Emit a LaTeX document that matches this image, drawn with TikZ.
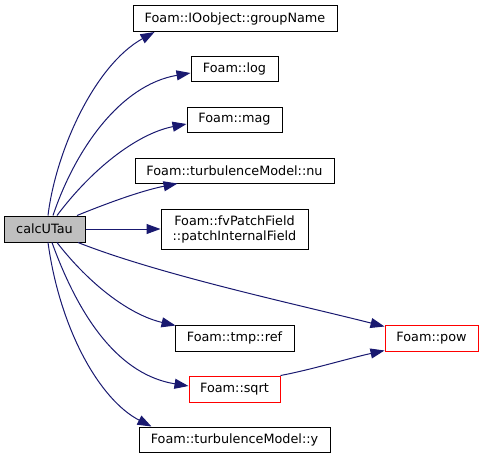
\documentclass[tikz,border=0pt]{standalone}
\usepackage{fontspec}
\setmainfont{DejaVu Sans}
\usetikzlibrary{arrows.meta,calc}
\definecolor{edgeblue}{HTML}{191970}
\definecolor{boxgrey}{HTML}{BFBFBF}
\definecolor{boxred}{HTML}{FF0000}
\tikzset{
  fn/.style={draw=black, line width=1pt, fill=white, inner sep=0pt, align=center,
    font=\fontsize{12.8}{15}\selectfont},
  fnred/.style={draw=boxred, line width=1pt, fill=white, inner sep=0pt, align=center,
    font=\fontsize{12.8}{15}\selectfont},
  fncur/.style={fn, fill=boxgrey},
  call/.style={draw=edgeblue, line width=1pt, -{Triangle[length=14pt,width=10pt]}, fill=none},
}
\begin{document}
\begin{tikzpicture}[x=1pt,y=-1pt, every node/.append style={anchor=center}]
\useasboundingbox (0,0) rectangle (484,459);
\node[fncur, minimum width=81pt, minimum height=26pt] (c) at (44.5,229) {calcUTau};
\node[fn, minimum width=204pt, minimum height=26pt] (g) at (235,18.5) {Foam::IOobject::groupName};
\node[fn, minimum width=87pt, minimum height=25pt] (lg) at (234.5,69) {Foam::log};
\node[fn, minimum width=95pt, minimum height=25pt] (mg) at (234.5,119.5) {Foam::mag};
\node[fn, minimum width=199pt, minimum height=25pt] (nu) at (234.5,170.5) {Foam::turbulenceModel::nu};
\node[fn, minimum width=147pt, minimum height=40pt] (fv) at (234.5,229) {Foam::fvPatchField\\::patchInternalField};
\node[fn, minimum width=119pt, minimum height=26pt] (rf) at (234.5,338) {Foam::tmp::ref};
\node[fnred, minimum width=93pt, minimum height=26pt] (pw) at (431.5,338) {Foam::pow};
\node[fnred, minimum width=91pt, minimum height=26pt] (sq) at (234.5,389) {Foam::sqrt};
\node[fn, minimum width=191pt, minimum height=25pt] (ty) at (234.5,439.5) {Foam::turbulenceModel::y};

\draw[call] ($(c.north)+(3.5,0)$) .. controls (56,150) and (95,65) .. ($(g.south west)+(22,0)$);
\draw[call] ($(c.north)+(8.5,0)$) .. controls (75,150) and (120,85) .. ($(lg.west)+(0,4)$);
\draw[call] ($(c.north)+(12.5,0)$) .. controls (95,165) and (140,133) .. ($(mg.west)+(0,4.5)$);
\draw[call] ($(c.north)+(32.5,0)$) .. controls (115,200) and (145,190) .. ($(nu.south west)+(43,0)$);
\draw[call] (c.east) -- (fv.west);
\draw[call] ($(c.south)+(33.5,0)$) .. controls (160,275) and (300,305) .. ($(pw.north west)+(0,2)$);
\draw[call] ($(c.south)+(12.5,0)$) .. controls (90,285) and (130,315) .. ($(rf.north west)+(1,1)$);
\draw[call] ($(c.south)+(7.5,0)$) .. controls (80,320) and (120,375) .. ($(sq.west)+(0,-3)$);
\draw[call] ($(c.south)+(3.5,0)$) .. controls (60,330) and (100,400) .. ($(ty.north west)+(13,0)$);
\draw[call] (sq.north east) .. controls (310,370) and (350,358) .. ($(pw.south west)+(0,-1)$);
\end{tikzpicture}
\end{document}
